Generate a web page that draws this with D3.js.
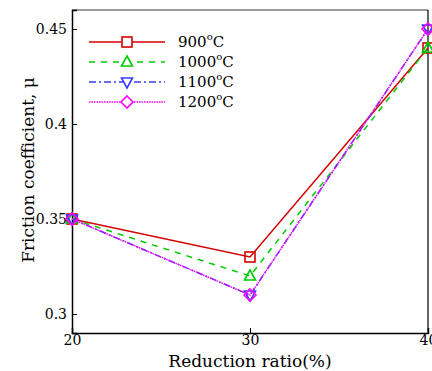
<!DOCTYPE html>
<html>
<head>
<meta charset="utf-8">
<script src="https://cdn.jsdelivr.net/npm/d3@7"></script>
<style>
  body { margin: 0; background: #fff; }
</style>
</head>
<body>
<div id="chart"></div>
<script>
// --- data
const ratios = [20, 30, 40];
const temps = ['900', '1000', '1100', '1200'];
const mu900 = [0.35, 0.33, 0.44];
const mu1000 = [0.35, 0.32, 0.44];
const mu1100 = [0.35, 0.31, 0.45];
const mu1200 = [0.35, 0.31, 0.45];
const xTicks = [20, 30, 40];
const yTicks = [0.3, 0.35, 0.4, 0.45];

const series = [
  { name: temps[0], values: mu900, color: '#d40000', dash: null, symbol: 'square' },
  { name: temps[1], values: mu1000, color: '#00cc00', dash: '6,6', symbol: 'up' },
  { name: temps[2], values: mu1100, color: '#3b3bff', dash: '7,3,2,3', symbol: 'down' },
  { name: temps[3], values: mu1200, color: '#ff00ff', dash: '1.5,1', symbol: 'diamond' }
];

const FONT = 'DejaVu Serif, serif';
const width = 432, height = 371;
const margin = { top: 10, right: 4, bottom: 38, left: 72 };
const w = width - margin.left - margin.right;
const h = height - margin.top - margin.bottom;

const svg = d3.select('#chart').append('svg')
  .attr('width', width).attr('height', height)
  .style('font-family', FONT);

const x = d3.scaleLinear().domain([20, 40]).range([0, w]);
const y = d3.scaleLinear().domain([0.29, 0.46]).range([h, 0]);

const g = svg.append('g').attr('transform', `translate(${margin.left},${margin.top})`);

// frame
g.append('line').attr('x1', 0).attr('x2', w).attr('y1', 0).attr('y2', 0)
  .attr('stroke', '#777').attr('stroke-width', 1.5);
g.append('line').attr('x1', w).attr('x2', w).attr('y1', 0).attr('y2', h)
  .attr('stroke', '#000').attr('stroke-width', 1.2);

// axes, ticks pointing inward
const gx = g.append('g').attr('transform', `translate(0,${h})`)
  .call(d3.axisBottom(x).tickValues(xTicks).tickSize(-5).tickPadding(6).tickFormat(d3.format('d')));
const gy = g.append('g')
  .call(d3.axisLeft(y).tickValues(yTicks).tickSize(-5).tickPadding(5).tickFormat(d => String(+d.toFixed(2))));
[gx, gy].forEach(a => {
  a.attr('font-family', null).style('font-family', FONT);
  a.select('.domain').attr('stroke', '#000').attr('stroke-width', 1.5);
  a.selectAll('.tick line').attr('stroke', '#000');
  a.selectAll('.tick text').attr('font-size', 14).attr('fill', '#000');
});
gx.selectAll('.tick text').attr('dy', '0.45em');

// axis titles
svg.append('text').attr('x', margin.left + x(30)).attr('y', 367)
  .attr('text-anchor', 'middle').attr('font-size', 17).text('Reduction ratio(%)');
svg.append('text').attr('transform', 'translate(34,170) rotate(-90)')
  .attr('text-anchor', 'middle').attr('font-size', 17).text('Friction coefficient, μ');

function marker(sel, s, cx, cy) {
  const r = 5;
  if (s.symbol === 'square') {
    sel.append('rect').attr('x', cx - r).attr('y', cy - r).attr('width', 2 * r).attr('height', 2 * r);
  } else if (s.symbol === 'up') {
    sel.append('path').attr('d', `M${cx},${cy - 6}L${cx + 5.5},${cy + 4}L${cx - 5.5},${cy + 4}Z`);
  } else if (s.symbol === 'down') {
    sel.append('path').attr('d', `M${cx},${cy + 6}L${cx + 5.5},${cy - 4}L${cx - 5.5},${cy - 4}Z`);
  } else {
    sel.append('path').attr('d', `M${cx},${cy - 6}L${cx + 6},${cy}L${cx},${cy + 6}L${cx - 6},${cy}Z`);
  }
}

const line = d3.line().x((d, i) => x(ratios[i])).y(d => y(d));

series.forEach(s => {
  const sg = g.append('g');
  sg.append('path').datum(s.values).attr('d', line)
    .attr('fill', 'none').attr('stroke', s.color).attr('stroke-width', 1.5)
    .attr('stroke-dasharray', s.dash);
  const mg = sg.append('g').attr('fill', 'none').attr('stroke', s.color).attr('stroke-width', 1.6);
  s.values.forEach((v, i) => marker(mg, s, x(ratios[i]), y(v)));
});

// legend
const lg = svg.append('g');
series.forEach((s, i) => {
  const ly = 42 + i * 20;
  lg.append('line').attr('x1', 89).attr('x2', 165).attr('y1', ly).attr('y2', ly)
    .attr('stroke', s.color).attr('stroke-width', 1.5).attr('stroke-dasharray', s.dash);
  const mg = lg.append('g').attr('fill', '#fff').attr('stroke', s.color).attr('stroke-width', 1.6);
  marker(mg, s, 127, ly);
  const t = lg.append('text').attr('x', 178).attr('y', ly + 5).attr('font-size', 15);
  t.append('tspan').text(s.name);
  t.append('tspan').attr('dy', -7).attr('font-size', 10).text('o');
  t.append('tspan').attr('dy', 7).text('C');
});
</script>
</body>
</html>
